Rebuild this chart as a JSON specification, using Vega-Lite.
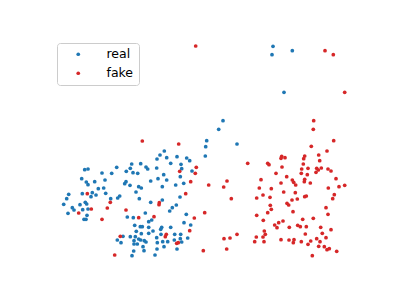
{
"$schema": "https://vega.github.io/schema/vega-lite/v6.json",
"width": 399, "height": 299,
"autosize": {"type": "fit", "contains": "padding"},
"padding": 0,
"background": "white",
"config": {"view": {"stroke": null}},
"data": {"values": [
{"s":"real","x":273,"y":46.3},{"s":"real","x":272,"y":54.7},{"s":"real","x":292.3,"y":50.7},{"s":"real","x":284,"y":92.3},{"s":"real","x":223,"y":120.7},{"s":"real","x":218.7,"y":129.3},
{"s":"real","x":131.7,"y":164},{"s":"real","x":140.7,"y":163.7},{"s":"real","x":146,"y":167},{"s":"real","x":147.7,"y":169},{"s":"real","x":130.3,"y":168.3},{"s":"real","x":126.3,"y":171.3},{"s":"real","x":133,"y":172.7},{"s":"real","x":137.7,"y":173.3},{"s":"real","x":116.7,"y":167.3},{"s":"real","x":111.7,"y":173.3},{"s":"real","x":102,"y":173},{"s":"real","x":84.7,"y":169.7},{"s":"real","x":88,"y":169},{"s":"real","x":81.7,"y":178.7},{"s":"real","x":86.3,"y":182},{"s":"real","x":88,"y":184.7},{"s":"real","x":94.7,"y":181.7},{"s":"real","x":105,"y":180},{"s":"real","x":126,"y":181.7},{"s":"real","x":124.7,"y":183.7},{"s":"real","x":130,"y":185.3},{"s":"real","x":138.7,"y":186.7},{"s":"real","x":141.3,"y":188},{"s":"real","x":98.3,"y":188.7},{"s":"real","x":103.7,"y":188},{"s":"real","x":136,"y":192},{"s":"real","x":92.3,"y":192.7},{"s":"real","x":82.3,"y":193.7},{"s":"real","x":68.7,"y":194.3},{"s":"real","x":66.7,"y":198.7},{"s":"real","x":91,"y":196.7},{"s":"real","x":96,"y":195},{"s":"real","x":105.7,"y":193.3},{"s":"real","x":110.7,"y":198.7},{"s":"real","x":117.7,"y":198},{"s":"real","x":119.7,"y":196},{"s":"real","x":139.3,"y":198.7},
{"s":"real","x":206.7,"y":140.7},{"s":"real","x":205.7,"y":146.7},{"s":"real","x":237,"y":144},{"s":"real","x":164.3,"y":151},{"s":"real","x":160,"y":155},{"s":"real","x":166.7,"y":157.7},{"s":"real","x":157,"y":159},{"s":"real","x":177,"y":156.7},{"s":"real","x":186.7,"y":158},{"s":"real","x":189.7,"y":160.7},{"s":"real","x":205.3,"y":156},{"s":"real","x":170.7,"y":163.3},{"s":"real","x":181,"y":164.3},{"s":"real","x":156.7,"y":168},{"s":"real","x":181.7,"y":168.7},{"s":"real","x":192,"y":171},{"s":"real","x":163.7,"y":174.7},{"s":"real","x":180.3,"y":176.7},{"s":"real","x":158,"y":178.7},{"s":"real","x":166.7,"y":180},{"s":"real","x":150.7,"y":181},{"s":"real","x":183.7,"y":183.3},{"s":"real","x":175.7,"y":185},{"s":"real","x":162.3,"y":186.7},{"s":"real","x":180,"y":197},{"s":"real","x":162.3,"y":200},
{"s":"real","x":63.7,"y":204.3},{"s":"real","x":68,"y":213.3},{"s":"real","x":72.3,"y":207.7},{"s":"real","x":74,"y":210},{"s":"real","x":80,"y":204.7},{"s":"real","x":82.7,"y":209.7},{"s":"real","x":85.3,"y":202.3},{"s":"real","x":86.7,"y":204},{"s":"real","x":88,"y":209},{"s":"real","x":87,"y":215.3},{"s":"real","x":84,"y":219.3},{"s":"real","x":86,"y":219.3},{"s":"real","x":127.3,"y":217},{"s":"real","x":133.3,"y":217.7},{"s":"real","x":145.3,"y":213},{"s":"real","x":148.7,"y":221.7},{"s":"real","x":134.7,"y":225.3},{"s":"real","x":140.3,"y":226.7},{"s":"real","x":142.3,"y":226.7},{"s":"real","x":148.7,"y":227.3},{"s":"real","x":136.3,"y":231.3},{"s":"real","x":141.3,"y":233.7},{"s":"real","x":148.7,"y":233.3},{"s":"real","x":123,"y":236.3},{"s":"real","x":130.3,"y":236.7},{"s":"real","x":135.3,"y":236.7},{"s":"real","x":117.3,"y":240},{"s":"real","x":121,"y":242.7},{"s":"real","x":134,"y":240.7},{"s":"real","x":138.7,"y":239},{"s":"real","x":140.7,"y":240},{"s":"real","x":144.3,"y":240.7},{"s":"real","x":134,"y":244},{"s":"real","x":137.3,"y":244},{"s":"real","x":146,"y":242},{"s":"real","x":143,"y":246.7},{"s":"real","x":144,"y":250.7},{"s":"real","x":133.7,"y":251},{"s":"real","x":132,"y":255.7},
{"s":"real","x":150.7,"y":202.3},{"s":"real","x":176.3,"y":205},{"s":"real","x":172.3,"y":207.7},{"s":"real","x":169.7,"y":211},{"s":"real","x":186.3,"y":214.3},{"s":"real","x":151.7,"y":220},{"s":"real","x":184,"y":222.7},{"s":"real","x":190.7,"y":225},{"s":"real","x":161.7,"y":227.3},{"s":"real","x":160.7,"y":229.3},{"s":"real","x":170.7,"y":227.3},{"s":"real","x":153,"y":231},{"s":"real","x":161,"y":234.3},{"s":"real","x":174.7,"y":234.3},{"s":"real","x":180.7,"y":234.3},{"s":"real","x":156.7,"y":237.7},{"s":"real","x":180.3,"y":238.7},{"s":"real","x":187.7,"y":238},{"s":"real","x":174.3,"y":240},{"s":"real","x":157.3,"y":242.7},{"s":"real","x":162.7,"y":241.7},{"s":"real","x":167.7,"y":241.7},{"s":"real","x":181.7,"y":242},{"s":"real","x":164,"y":246.7},{"s":"real","x":157,"y":249},{"s":"real","x":177,"y":249},{"s":"real","x":155,"y":255},
{"s":"fake","x":195.7,"y":46},{"s":"fake","x":325,"y":50.7},{"s":"fake","x":333.3,"y":54.7},{"s":"fake","x":344.7,"y":92.3},{"s":"fake","x":313.7,"y":120.7},{"s":"fake","x":313.3,"y":129.3},{"s":"fake","x":142.3,"y":141},{"s":"fake","x":87.3,"y":193.7},
{"s":"fake","x":178.7,"y":144},{"s":"fake","x":196.3,"y":167.3},{"s":"fake","x":179.7,"y":171.3},{"s":"fake","x":195.3,"y":173.3},{"s":"fake","x":190.7,"y":181.7},{"s":"fake","x":208.7,"y":185},{"s":"fake","x":227,"y":181},{"s":"fake","x":223.7,"y":187},{"s":"fake","x":185.7,"y":193.7},{"s":"fake","x":231.3,"y":198.7},
{"s":"fake","x":333.7,"y":140.7},{"s":"fake","x":311.3,"y":146.3},{"s":"fake","x":327,"y":151},{"s":"fake","x":318.7,"y":155},{"s":"fake","x":319.7,"y":160.7},{"s":"fake","x":247.7,"y":163.3},{"s":"fake","x":267.7,"y":163.3},{"s":"fake","x":269,"y":164.7},{"s":"fake","x":281.7,"y":156.3},{"s":"fake","x":285,"y":157.7},{"s":"fake","x":281,"y":158.3},{"s":"fake","x":304.7,"y":156},{"s":"fake","x":303.7,"y":158.7},{"s":"fake","x":303.3,"y":164},{"s":"fake","x":282,"y":167},{"s":"fake","x":301.7,"y":169},{"s":"fake","x":308,"y":168.3},{"s":"fake","x":316.7,"y":168.3},{"s":"fake","x":318.3,"y":170},{"s":"fake","x":321.3,"y":168},{"s":"fake","x":328,"y":169},{"s":"fake","x":331,"y":171},{"s":"fake","x":316,"y":172.3},{"s":"fake","x":276,"y":173.3},{"s":"fake","x":301.3,"y":173.3},{"s":"fake","x":307.3,"y":174.7},{"s":"fake","x":286.7,"y":176.7},{"s":"fake","x":261,"y":179.7},{"s":"fake","x":292.3,"y":180},{"s":"fake","x":293.7,"y":182.3},{"s":"fake","x":304.7,"y":179.3},{"s":"fake","x":304.3,"y":181.7},{"s":"fake","x":310.3,"y":183},{"s":"fake","x":336,"y":178.7},{"s":"fake","x":281,"y":183},{"s":"fake","x":295.7,"y":185},{"s":"fake","x":344.7,"y":185.3},{"s":"fake","x":339,"y":186.7},{"s":"fake","x":328.3,"y":188},{"s":"fake","x":259.3,"y":188},{"s":"fake","x":271.3,"y":188.7},{"s":"fake","x":283.7,"y":192},{"s":"fake","x":295.3,"y":192.7},{"s":"fake","x":263,"y":195},{"s":"fake","x":306.3,"y":196},{"s":"fake","x":304.7,"y":196.7},{"s":"fake","x":334.3,"y":194.7},{"s":"fake","x":270,"y":197.3},{"s":"fake","x":256.7,"y":198},{"s":"fake","x":292,"y":200},{"s":"fake","x":297.3,"y":199},{"s":"fake","x":332.7,"y":198.7},
{"s":"fake","x":78.7,"y":213},{"s":"fake","x":91.3,"y":209},{"s":"fake","x":110.3,"y":202.3},{"s":"fake","x":107.3,"y":208},{"s":"fake","x":126,"y":210},{"s":"fake","x":102,"y":219.3},{"s":"fake","x":138.7,"y":217.7},{"s":"fake","x":120.3,"y":236.3},{"s":"fake","x":114.7,"y":255},
{"s":"fake","x":159.3,"y":202.7},{"s":"fake","x":159,"y":204.7},{"s":"fake","x":204.7,"y":212.7},{"s":"fake","x":194.3,"y":218},{"s":"fake","x":154,"y":216.7},{"s":"fake","x":189.7,"y":230.7},{"s":"fake","x":166.3,"y":234.3},{"s":"fake","x":165.3,"y":236.7},{"s":"fake","x":178.3,"y":242.7},{"s":"fake","x":176.7,"y":243.3},{"s":"fake","x":224,"y":238.7},{"s":"fake","x":230,"y":238},{"s":"fake","x":237,"y":234.3},{"s":"fake","x":226.7,"y":249},{"s":"fake","x":203.3,"y":250.7},
{"s":"fake","x":270.3,"y":205.3},{"s":"fake","x":271.3,"y":209.3},{"s":"fake","x":267.7,"y":212.7},{"s":"fake","x":287,"y":203.3},{"s":"fake","x":288.7,"y":205},{"s":"fake","x":293,"y":211.7},{"s":"fake","x":326,"y":207.7},{"s":"fake","x":328,"y":214.3},{"s":"fake","x":256.7,"y":215.3},{"s":"fake","x":263.3,"y":220.3},{"s":"fake","x":302.7,"y":219.3},{"s":"fake","x":313.3,"y":218.3},{"s":"fake","x":274.7,"y":225},{"s":"fake","x":278.7,"y":222.7},{"s":"fake","x":283,"y":221},{"s":"fake","x":277,"y":227.7},{"s":"fake","x":289.3,"y":227.3},{"s":"fake","x":297.7,"y":225.3},{"s":"fake","x":300.3,"y":226.7},{"s":"fake","x":306.3,"y":226.7},{"s":"fake","x":320.7,"y":227.3},{"s":"fake","x":331,"y":229.7},{"s":"fake","x":264.3,"y":231},{"s":"fake","x":265.3,"y":234.3},{"s":"fake","x":305.3,"y":234},{"s":"fake","x":322.3,"y":233.3},{"s":"fake","x":256.3,"y":237},{"s":"fake","x":263,"y":237},{"s":"fake","x":326,"y":237.7},{"s":"fake","x":281,"y":239.7},{"s":"fake","x":289,"y":240},{"s":"fake","x":294,"y":239.7},{"s":"fake","x":293.3,"y":242.7},{"s":"fake","x":254.7,"y":241.7},{"s":"fake","x":264,"y":241.7},{"s":"fake","x":301.3,"y":241.7},{"s":"fake","x":310.7,"y":241},{"s":"fake","x":316.7,"y":238.7},{"s":"fake","x":320,"y":241.7},{"s":"fake","x":308,"y":244.3},{"s":"fake","x":318.7,"y":246.3},{"s":"fake","x":324.3,"y":246.7},{"s":"fake","x":327,"y":249.7},{"s":"fake","x":329.3,"y":248.7},{"s":"fake","x":336.7,"y":251.3},{"s":"fake","x":312.3,"y":255.7}
]},
"mark": {"type": "point", "filled": true, "opacity": 1, "size": 14},
"encoding": {
"x": {"field": "x", "type": "quantitative", "scale": {"domain": [0, 399], "nice": false, "zero": false}, "axis": null},
"y": {"field": "y", "type": "quantitative", "scale": {"domain": [0, 299], "nice": false, "zero": false, "reverse": true}, "axis": null},
"color": {"field": "s", "type": "nominal", "scale": {"domain": ["real", "fake"], "range": ["#1f77b4", "#d62728"]},
"legend": {"title": null, "orient": "none", "legendX": 57, "legendY": 43, "fillColor": "white", "strokeColor": "#cccccc", "cornerRadius": 3, "padding": 5, "symbolOffset": 10, "symbolType": "circle", "symbolSize": 14, "symbolStrokeWidth": 0, "labelOffset": 22, "labelFont": "DejaVu Sans", "labelFontSize": 12.5, "labelColor": "black", "rowPadding": 6}}
}
}
